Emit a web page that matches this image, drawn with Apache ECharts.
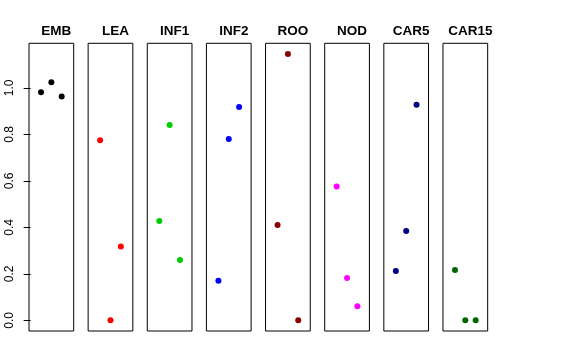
<!DOCTYPE html>
<html>
<head>
<meta charset="utf-8">
<script src="https://cdn.jsdelivr.net/npm/echarts@6/dist/echarts.min.js"></script>
<style>html,body{margin:0;padding:0;background:#fff;}#c{width:576px;height:360px;}</style>
</head>
<body>
<div id="c"></div>
<script>
var categories = ['EMB', 'LEA', 'INF1', 'INF2', 'ROO', 'NOD', 'CAR5', 'CAR15'];
var emb = [0.981, 1.024, 0.963];
var lea = [0.775, 0.0, 0.318];
var inf1 = [0.427, 0.841, 0.260];
var inf2 = [0.170, 0.780, 0.918];
var roo = [0.410, 1.146, 0.0];
var nod = [0.576, 0.182, 0.061];
var car5 = [0.212, 0.384, 0.928];
var car15 = [0.217, 0.0, 0.0];
var colors = ['#000000', '#FF0000', '#00CD00', '#0000FF', '#8B0000', '#FF00FF', '#000080', '#006400'];
var yTicks = [0, 0.2, 0.4, 0.6, 0.8, 1.0];
var xPositions = [1, 2, 3];

var seriesValues = [emb, lea, inf1, inf2, roo, nod, car5, car15];
var font = 'Liberation Sans, Arial, Helvetica, sans-serif';
var yMin = -0.0458, yMax = 1.192;
var left0 = 29, step = 59.14, pw = 44.7, top0 = 43.3, ph = 287.7;

var grids = [], xAxes = [], yAxes = [], series = [], titles = [];
categories.forEach(function (name, i) {
  var l = left0 + step * i;
  grids.push({ left: l, top: top0, width: pw, height: ph, show: true, borderColor: '#000', borderWidth: 1, backgroundColor: 'transparent', containLabel: false });
  xAxes.push({ gridIndex: i, type: 'value', min: -0.16, max: 4.16, show: false });
  var first = i === 0;
  yAxes.push({
    gridIndex: i, type: 'value', min: yMin, max: yMax, show: first,
    splitLine: { show: false },
    axisLine: { show: false },
    axisTick: { show: first, length: 7, inside: false, customValues: yTicks, lineStyle: { color: '#000' } },
    axisLabel: { show: first, customValues: yTicks, rotate: 90, margin: 13, fontSize: 12, fontFamily: font, color: '#000',
      formatter: function (v) { return Number(v).toFixed(1); } }
  });
  series.push({
    type: 'scatter', xAxisIndex: i, yAxisIndex: i, symbol: 'circle', symbolSize: 6,
    itemStyle: { color: colors[i], opacity: 1 },
    data: xPositions.map(function (x, j) { return [x, seriesValues[i][j]]; }),
    silent: true, animation: false
  });
  titles.push({ text: name, left: l + pw / 2, top: 19, textAlign: 'center',
    textStyle: { fontSize: 13.5, fontWeight: 'bold', fontFamily: font, color: '#000' } });
});

var chart = echarts.init(document.getElementById('c'), null, { renderer: 'canvas' });
chart.setOption({
  animation: false,
  backgroundColor: '#fff',
  title: titles,
  grid: grids,
  xAxis: xAxes,
  yAxis: yAxes,
  series: series
});
</script>
</body>
</html>
